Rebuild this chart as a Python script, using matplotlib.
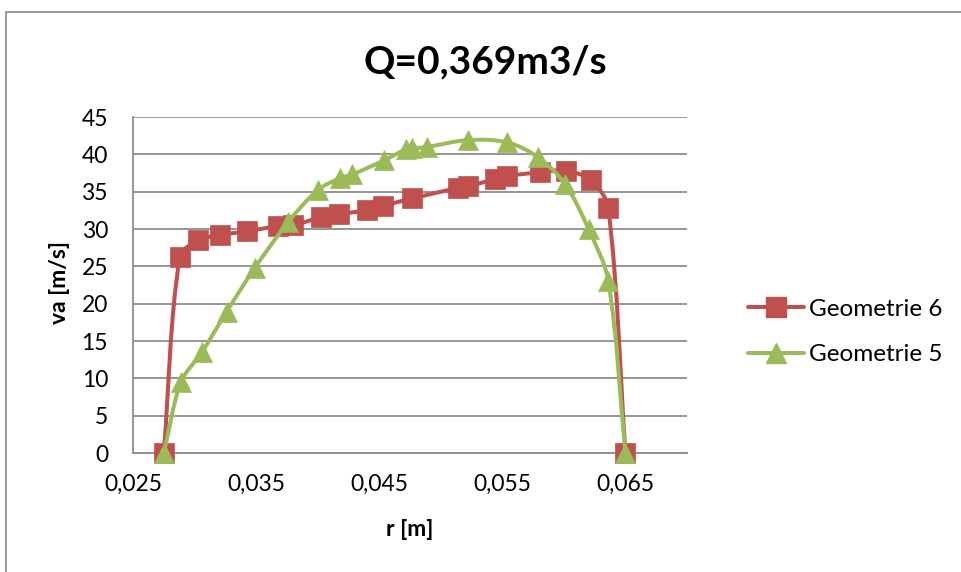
import numpy as np
import matplotlib.pyplot as plt
from matplotlib.path import Path
from matplotlib.patches import PathPatch, Rectangle
from matplotlib.lines import Line2D

plt.rcParams['font.family'] = ['Lato', 'DejaVu Sans']

# Geometrie 6 (red squares)
r_geo6 = [0.0275, 0.0288, 0.0303, 0.0321, 0.0343, 0.0368, 0.0380, 0.0403, 0.0417,
          0.0440, 0.0453, 0.0477, 0.0514, 0.0522, 0.0544, 0.0554, 0.0581, 0.0602,
          0.0622, 0.0636, 0.0650]
va_geo6 = [0.0, 26.2, 28.5, 29.2, 29.7, 30.4, 30.5, 31.6, 32.0,
           32.5, 33.1, 34.1, 35.5, 35.7, 36.7, 37.1, 37.6, 37.8,
           36.5, 32.8, 0.0]

# Geometrie 5 (green triangles)
r_geo5 = [0.0275, 0.0289, 0.0306, 0.0326, 0.0349, 0.0376, 0.0400, 0.0418, 0.0428,
          0.0454, 0.0472, 0.0477, 0.0489, 0.0522, 0.0554, 0.0579, 0.0601, 0.0620,
          0.0636, 0.0650]
va_geo5 = [0.0, 9.5, 13.5, 18.9, 24.8, 30.9, 35.2, 36.8, 37.3,
           39.2, 40.7, 40.8, 41.0, 41.9, 41.6, 39.6, 36.0, 30.0,
           23.1, 0.0]

series_names = ['Geometrie 6', 'Geometrie 5']
x_ticks = [0.025, 0.035, 0.045, 0.055, 0.065]
x_tick_labels = ['0,025', '0,035', '0,045', '0,055', '0,065']
y_ticks = [0, 5, 10, 15, 20, 25, 30, 35, 40, 45]

XLIM = (0.025, 0.070)
YLIM = (0, 45)
AX_W, AX_H = 554, 336  # axes size in pixels

RED = '#C0504D'
GREEN = '#9BBB59'
GRID = '#8C8C8C'


def smooth_path(x, y):
    # smoothed line through every point (Excel style), tangents weighted
    # by segment length so short segments do not overshoot
    sx = AX_W / (XLIM[1] - XLIM[0])
    sy = AX_H / (YLIM[1] - YLIM[0])
    pts = np.column_stack([np.asarray(x) * sx, np.asarray(y) * sy])
    n = len(pts)
    c_out = [None] * n
    c_in = [None] * n
    for i in range(n):
        if i == 0:
            c_out[i] = pts[0] + (pts[1] - pts[0]) / 3
            continue
        if i == n - 1:
            c_in[i] = pts[i] - (pts[i] - pts[i - 1]) / 3
            continue
        d = pts[i + 1] - pts[i - 1]
        l_in = np.hypot(*(pts[i] - pts[i - 1]))
        l_out = np.hypot(*(pts[i + 1] - pts[i]))
        tot = l_in + l_out
        c_out[i] = pts[i] + d * (l_out / tot) / 3
        c_in[i] = pts[i] - d * (l_in / tot) / 3
    verts = [pts[0]]
    codes = [Path.MOVETO]
    for i in range(n - 1):
        verts += [c_out[i], c_in[i + 1], pts[i + 1]]
        codes += [Path.CURVE4] * 3
    verts = np.array(verts) / [sx, sy]
    return Path(verts, codes)


fig = plt.figure(figsize=(9.61, 5.72), dpi=100)
ax = fig.add_axes([133 / 961, 1 - 453 / 572, AX_W / 961, AX_H / 572])

# chart area border (cut off at right and bottom)
fig.patches.append(Rectangle((6 / 961, -0.1), 1.2, 1 - 12 / 572 + 0.1,
                             transform=fig.transFigure, fill=False,
                             edgecolor='#868686', lw=1.2))

for x, y, col, mk in [(r_geo6, va_geo6, RED, 's'), (r_geo5, va_geo5, GREEN, '^')]:
    ax.add_patch(PathPatch(smooth_path(x, y), fill=False, edgecolor=col, lw=2.9,
                           capstyle='round', joinstyle='round', clip_on=False, zorder=3))
    ax.plot(x, y, linestyle='none', marker=mk, ms=14, color=col, mec=col, mew=0.5,
            clip_on=False, zorder=3)

ax.set_xlim(*XLIM)
ax.set_ylim(*YLIM)
ax.set_xticks(x_ticks)
ax.set_xticklabels(x_tick_labels)
ax.set_yticks(y_ticks)
ax.tick_params(axis='both', length=0, labelsize=16.5, colors='black')
ax.tick_params(axis='x', pad=15)
ax.tick_params(axis='y', pad=18)

ax.set_axisbelow(True)
ax.yaxis.grid(True, color=GRID, lw=1.3)
ax.xaxis.grid(False)
for side in ['top', 'right']:
    ax.spines[side].set_visible(False)
for side in ['left', 'bottom']:
    ax.spines[side].set_color(GRID)
    ax.spines[side].set_linewidth(1.3)

fig.text(485 / 961, 1 - 62 / 572, 'Q=0,369m3/s', ha='center', va='center',
         fontsize=28, fontweight='bold')
fig.text(410 / 961, 1 - 530 / 572, 'r [m]', ha='center', va='center',
         fontsize=16.5, fontweight='bold')
fig.text(60 / 961, 1 - 282 / 572, 'va [m/s]', ha='center', va='center',
         rotation=90, fontsize=16.5, fontweight='bold')

handles = [Line2D([], [], color=RED, lw=2.9, marker='s', ms=14, solid_capstyle='round'),
           Line2D([], [], color=GREEN, lw=2.9, marker='^', ms=14, solid_capstyle='round')]
fig.legend(handles, series_names, loc='center left',
           bbox_to_anchor=(748 / 961, 1 - 332 / 572), frameon=False,
           fontsize=17.5, handlelength=2.3, handletextpad=0.2,
           labelspacing=1.0, borderpad=0, borderaxespad=0, numpoints=1)

fig.savefig('out.png', dpi=100)
